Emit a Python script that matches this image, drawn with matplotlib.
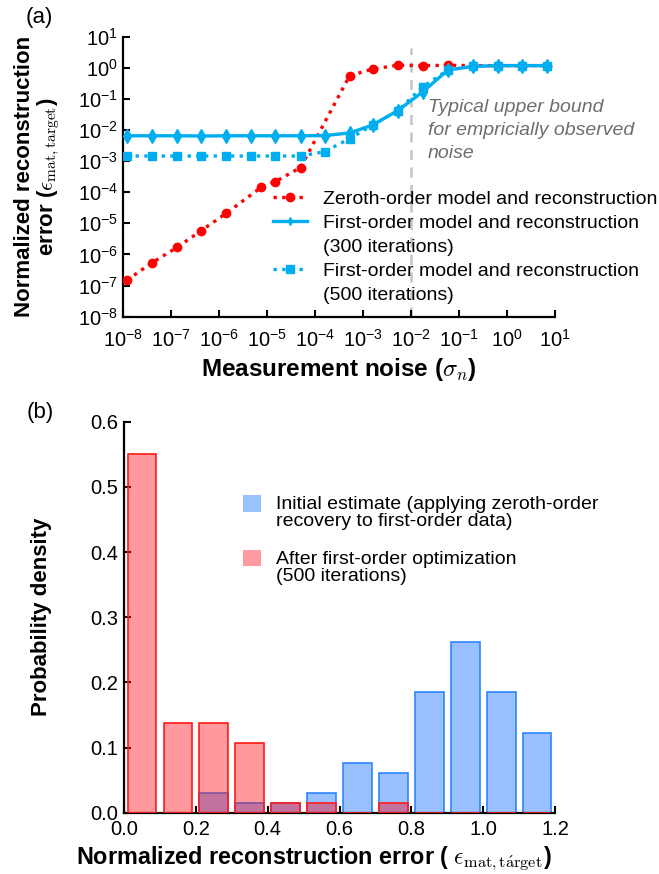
import numpy as np
import matplotlib
matplotlib.use("Agg")
import matplotlib.pyplot as plt
from matplotlib.lines import Line2D
from matplotlib.patches import Rectangle
from matplotlib.ticker import FuncFormatter, MultipleLocator, FixedLocator

plt.rcParams['font.family'] = ['Liberation Sans', 'DejaVu Sans']
plt.rcParams['axes.linewidth'] = 1.6

# noise sweep (panel a)
noise_first = [1.18e-8, 3.94e-8, 1.32e-7, 4.18e-7, 1.39e-6, 4.65e-6, 1.48e-5, 4.92e-5, 1.56e-4,
               5.22e-4, 1.58e-3, 5.27e-3, 1.76e-2, 5.86e-2, 0.195, 0.652, 2.07, 6.9]
err_300 = [6.5e-3, 6.5e-3, 6.5e-3, 6.4e-3, 6.5e-3, 6.5e-3, 6.5e-3, 6.5e-3, 6.6e-3,
           8.0e-3, 1.45e-2, 4.2e-2, 0.17, 0.85, 1.1, 1.17, 1.17, 1.17]
err_500 = [1.45e-3, 1.45e-3, 1.45e-3, 1.45e-3, 1.45e-3, 1.45e-3, 1.45e-3, 1.45e-3, 2.0e-3,
           5.3e-3, 1.45e-2, 4.2e-2, 0.245, 0.85, 1.1, 1.17, 1.17, 1.17]
noise_zeroth = [1.18e-8, 3.94e-8, 1.32e-7, 4.18e-7, 1.39e-6, 7.5e-6, 1.48e-5, 4.92e-5,
                5.22e-4, 1.58e-3, 5.27e-3, 1.76e-2, 5.86e-2, 0.195, 0.652, 2.07, 6.9]
err_zeroth = [1.5e-7, 5.4e-7, 1.7e-6, 5.8e-6, 2.1e-5, 1.45e-4, 2.2e-4, 6.2e-4,
              0.56, 0.91, 1.2, 1.17, 1.2, 1.17, 1.17, 1.17, 1.17]
noise_bound = 1e-2

# error histograms (panel b), bin width 0.1
bin_centers = [0.05, 0.15, 0.25, 0.35, 0.45, 0.55, 0.65, 0.75, 0.85, 0.95, 1.05, 1.15]
dens_initial = [0.0, 0.0, 0.031, 0.0154, 0.0154, 0.031, 0.077, 0.0615, 0.185, 0.262, 0.185, 0.123]
dens_optim = [0.55, 0.137, 0.137, 0.107, 0.0154, 0.0154, 0.0, 0.0154, 0.0, 0.0, 0.0, 0.0]

red = '#ff0000'
cyan = '#00aeef'

fig = plt.figure(figsize=(6.59, 8.74), dpi=100)

# ---------------- panel (a) ----------------
ax1 = fig.add_axes([0.1874, 0.6377, 0.6548, 0.3204])
ax1.plot(noise_zeroth, err_zeroth, color=red, linestyle=(0, (1, 1.6)), linewidth=2.4,
         marker='o', markersize=6, zorder=3)
ax1.plot(noise_first, err_500, color=cyan, linestyle=(0, (1, 1.6)), linewidth=2.4,
         marker='s', markersize=6, zorder=4)
ax1.plot(noise_first, err_300, color=cyan, linestyle='-', linewidth=2.4,
         marker='d', markersize=7, zorder=5)
ax1.axvline(noise_bound, ymax=0.96, color='#c4c4c4', linestyle=(0, (4, 3)), linewidth=1.8, zorder=1)

ax1.set_xscale('log')
ax1.set_yscale('log')
ax1.set_xlim(1e-8, 1e1)
ax1.set_ylim(1e-8, 1e1)
decades = [10.0 ** k for k in range(-8, 2)]
ax1.xaxis.set_major_locator(FixedLocator(decades))
ax1.yaxis.set_major_locator(FixedLocator(decades))
ax1.xaxis.set_minor_locator(FixedLocator([]))
ax1.yaxis.set_minor_locator(FixedLocator([]))
powfmt = FuncFormatter(lambda v, p: r'$\mathregular{10^{%d}}$' % int(round(np.log10(v))))
ax1.xaxis.set_major_formatter(powfmt)
ax1.yaxis.set_major_formatter(powfmt)
ax1.tick_params(direction='in', length=5, width=1.5, labelsize=14.5)
ax1.tick_params(axis='x', pad=9)
ax1.tick_params(axis='y', pad=4)
for s in ['top', 'right']:
    ax1.spines[s].set_visible(False)

ax1.set_xlabel(r'Measurement noise ($\sigma_n$)', fontsize=17.5, fontweight='bold',
               math_fontfamily='cm')
ax1.xaxis.set_label_coords(0.5, -0.142)
ax1.set_ylabel('Normalized reconstruction\n' + r'error ($\epsilon_{\mathrm{mat,target}}$)',
               fontsize=16, fontweight='bold', math_fontfamily='cm', linespacing=1.05)
ax1.yaxis.set_label_coords(-0.142, 0.5)

ax1.text(0.706, 0.777, 'Typical upper bound\nfor empricially observed\nnoise',
         transform=ax1.transAxes, ha='left', va='top', fontsize=14, style='italic',
         color='#6e6e6e', linespacing=1.45)

leg_handles = [
    Line2D([], [], color=red, linestyle=(0, (1, 1.6)), linewidth=2.4, marker='o', markersize=6),
    Line2D([], [], color=cyan, linestyle='-', linewidth=2.4, marker='d', markersize=4),
    Line2D([], [], linestyle='none'),
    Line2D([], [], color=cyan, linestyle=(0, (1, 1.6)), linewidth=2.4, marker='s', markersize=6),
    Line2D([], [], linestyle='none'),
]
leg_labels = ['Zeroth-order model and reconstruction',
              'First-order model and reconstruction',
              '(300 iterations)',
              'First-order model and reconstruction',
              '(500 iterations)']
leg = ax1.legend(leg_handles, leg_labels, loc='upper left', bbox_to_anchor=(0.3465, 0.451),
                 frameon=False, fontsize=14, handlelength=1.75, handletextpad=0.8,
                 labelspacing=0.33, borderpad=0, borderaxespad=0, numpoints=1)
leg.set_zorder(6)

# ---------------- panel (b) ----------------
ax2 = fig.add_axes([0.1882, 0.0701, 0.654, 0.4474])
ax2.bar(bin_centers, dens_initial, width=0.08, color=(0.0, 0.4, 1.0, 0.4),
        edgecolor='#2f86ff', linewidth=1.2, zorder=2)
ax2.bar(bin_centers, dens_optim, width=0.08, color=(1.0, 0.0, 0.05, 0.4),
        edgecolor='#ff1a1a', linewidth=1.2, zorder=3)
ax2.set_xlim(0, 1.2)
ax2.set_ylim(0, 0.6)
ax2.xaxis.set_major_locator(MultipleLocator(0.2))
ax2.yaxis.set_major_locator(MultipleLocator(0.1))
ax2.xaxis.set_major_formatter(FuncFormatter(lambda v, p: '%.1f' % v))
ax2.yaxis.set_major_formatter(FuncFormatter(lambda v, p: '%.1f' % v))
ax2.tick_params(direction='in', length=5, width=1.5, labelsize=14.5)
ax2.tick_params(axis='x', pad=5)
ax2.tick_params(axis='y', pad=4)
for s in ['top', 'right']:
    ax2.spines[s].set_visible(False)

ax2.set_xlabel(r'Normalized reconstruction error ( $\epsilon_{\mathrm{mat,t\acute{a}rget}}$)',
               fontsize=16.8, fontweight='bold', math_fontfamily='cm')
ax2.xaxis.set_label_coords(0.44, -0.081)
ax2.set_ylabel('Probability density', fontsize=16, fontweight='bold')
ax2.yaxis.set_label_coords(-0.166, 0.5)

# legend for the histograms
ax2.add_patch(Rectangle((0.276, 0.769), 0.042, 0.0435, transform=ax2.transAxes,
                        facecolor='#99c2ff', edgecolor='none', clip_on=False))
ax2.add_patch(Rectangle((0.276, 0.631), 0.042, 0.041, transform=ax2.transAxes,
                        facecolor='#ff9aa2', edgecolor='none', clip_on=False))
ax2.text(0.3527, 0.810, 'Initial estimate (applying zeroth-order\nrecovery to first-order data)',
         transform=ax2.transAxes, ha='left', va='top', fontsize=14, linespacing=1.0)
ax2.text(0.3527, 0.669, 'After first-order optimization\n(500 iterations)',
         transform=ax2.transAxes, ha='left', va='top', fontsize=14, linespacing=1.0)

fig.text(0.059, 0.9805, '(a)', fontsize=16, ha='center', va='center')
fig.text(0.061, 0.5286, '(b)', fontsize=16, ha='center', va='center')

fig.savefig('out.png', dpi=100)
